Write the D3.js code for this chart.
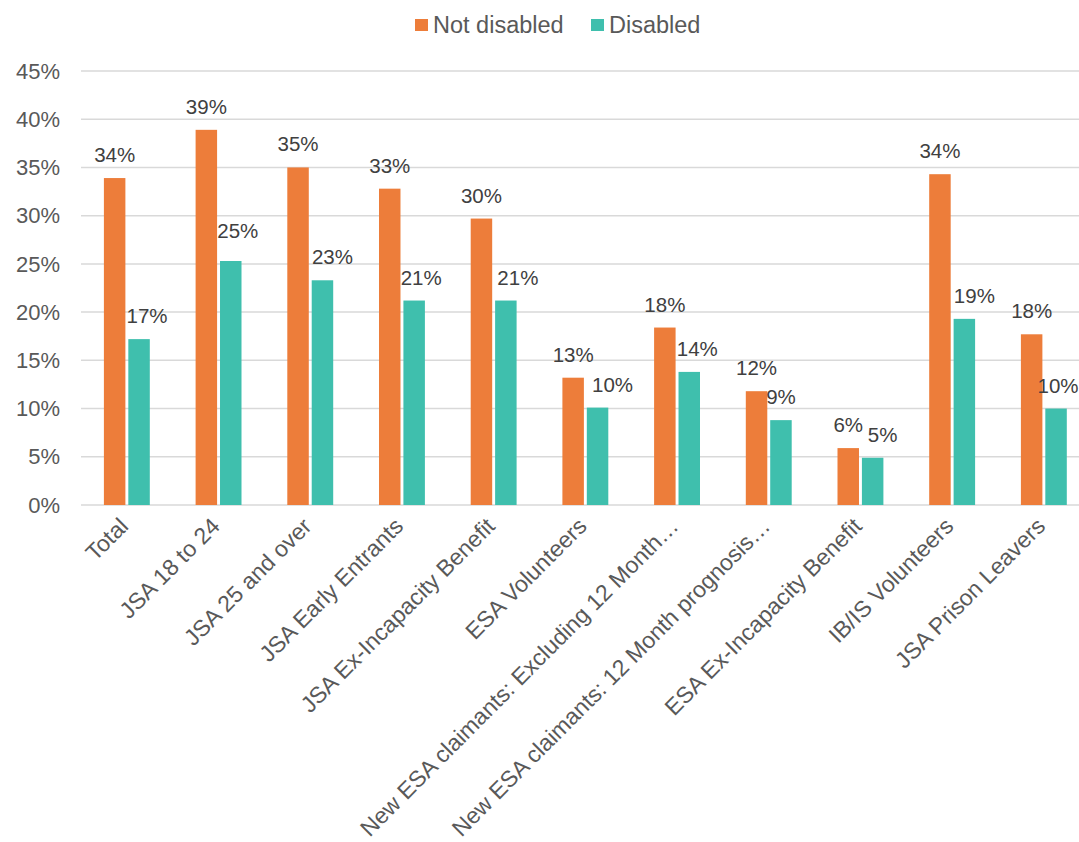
<!DOCTYPE html>
<html>
<head>
<meta charset="utf-8">
<script src="https://cdn.jsdelivr.net/npm/d3@7"></script>
<style>
  body { margin: 0; background: #fff; }
  svg { font-family: "Liberation Sans", Arial, sans-serif; }
</style>
</head>
<body>
<svg width="1079" height="842"></svg>
<script>
// data
const categories = [
  'Total', 'JSA 18 to 24', 'JSA 25 and over', 'JSA Early Entrants',
  'JSA Ex-Incapacity Benefit', 'ESA Volunteers',
  'New ESA claimants: Excluding 12 Month\u2026',
  'New ESA claimants: 12 Month prognosis\u2026',
  'ESA Ex-Incapacity Benefit', 'IB/IS Volunteers', 'JSA Prison Leavers'
];
const seriesNames = ['Not disabled', 'Disabled'];
const notDisabled = [33.9, 38.9, 35.0, 32.8, 29.7, 13.2, 18.4, 11.8, 5.9, 34.3, 17.7];
const disabled = [17.2, 25.3, 23.3, 21.2, 21.2, 10.1, 13.8, 8.8, 4.9, 19.3, 10.0];
const yTicks = [0, 5, 10, 15, 20, 25, 30, 35, 40, 45];
const colors = ['#ED7D3A', '#3FBFAD'];

// the "Disabled" labels were nudged right by hand in the original
const disabledLabelDx = [8, 7, 10, 7, 12, 15, 8, 0, 10, 10, 2];
const disabledLabelDy = [0, -7, 0, 0, 0, 0, 0, 0, 0, 0, 0];

const rows = categories.map((c, i) => ({cat: c, idx: i, values: [notDisabled[i], disabled[i]]}));

// 0. setup
// ----------------------------------
const svg = d3.select('svg');
const margin = {left: 81, top: 71, bottom: 505};

const x = d3.scaleBand()
    .domain(categories)
    .range([margin.left, margin.left + 91.7 * categories.length]);

const x1 = d3.scaleBand()
    .domain(seriesNames)
    .range([22.9, 68.8])
    .paddingInner(0.12);

const y = d3.scaleLinear()
    .domain([0, 45])
    .range([margin.bottom, margin.top]);

// 1. gridlines + y axis
// ----------------------------------
const grid = svg.append('g').classed('grid', true);
grid.selectAll('line')
    .data(yTicks)
    .enter().append('line')
    .attr('x1', margin.left)
    .attr('x2', 1079)
    .attr('y1', (d) => y(d))
    .attr('y2', (d) => y(d))
    .style('stroke', '#d9d9d9')
    .style('stroke-width', 1.5);

svg.append('g')
    .selectAll('text')
    .data(yTicks)
    .enter().append('text')
    .attr('x', 60)
    .attr('y', (d) => y(d))
    .attr('dy', '0.35em')
    .attr('text-anchor', 'end')
    .style('font-size', '22px')
    .style('fill', '#595959')
    .text((d) => d + '%');

// 2. bars and labels
// ----------------------------------
const groups = svg.append('g').selectAll('g')
    .data(rows)
    .enter().append('g')
    .attr('transform', (d) => `translate(${x(d.cat)},0)`);

const cells = (d) => d.values.map((v, i) => ({s: seriesNames[i], v: v, i: i, idx: d.idx}));

groups.selectAll('rect')
    .data(cells)
    .enter().append('rect')
    .attr('x', (d) => x1(d.s))
    .attr('width', x1.bandwidth())
    .attr('y', (d) => y(d.v))
    .attr('height', (d) => y(0) - y(d.v))
    .style('fill', (d) => colors[d.i]);

groups.selectAll('text')
    .data(cells)
    .enter().append('text')
    .attr('x', (d) => x1(d.s) + x1.bandwidth() / 2 + (d.i === 1 ? disabledLabelDx[d.idx] : 0))
    .attr('y', (d) => y(d.v) - 16 + (d.i === 1 ? disabledLabelDy[d.idx] : 0))
    .attr('text-anchor', 'middle')
    .style('font-size', '20.5px')
    .style('fill', '#404040')
    .text((d) => Math.round(d.v) + '%');

// 3. x axis labels
// ----------------------------------
svg.append('g')
    .selectAll('text')
    .data(categories)
    .enter().append('text')
    .attr('transform', (d) => `translate(${x(d) + x.bandwidth() / 2 - 3},${margin.bottom + 17}) rotate(-45)`)
    .attr('text-anchor', 'end')
    .attr('dy', '0.35em')
    .style('font-size', '23px')
    .style('fill', '#595959')
    .text((d) => d);

// 4. legend
// ----------------------------------
const legendX = [415, 591];
const legend = svg.append('g').selectAll('g')
    .data(seriesNames)
    .enter().append('g')
    .attr('transform', (d, i) => `translate(${legendX[i]},19)`);

legend.append('rect')
    .attr('width', 13)
    .attr('height', 12)
    .style('fill', (d, i) => colors[i]);

legend.append('text')
    .attr('x', 18)
    .attr('y', 13.5)
    .style('font-size', '23.5px')
    .style('fill', '#595959')
    .text((d) => d);
</script>
</body>
</html>
